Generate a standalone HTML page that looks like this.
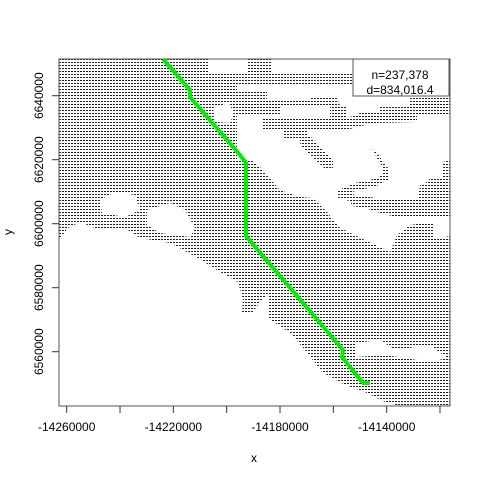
<!DOCTYPE html>
<html><head><meta charset="utf-8"><style>
html,body{margin:0;padding:0;background:#fff;}
svg{display:block;font-family:"Liberation Sans",Arial,sans-serif;}
</style></head><body>
<svg id="chart" width="480" height="480" viewBox="0 0 480 480">
<defs>
<pattern id="dots" x="59" y="59" width="3" height="3" patternUnits="userSpaceOnUse">
<rect x="0" y="0" width="2" height="1" fill="#222"/>
</pattern>
<clipPath id="plotclip"><rect x="59" y="59" width="391" height="347"/></clipPath>
</defs>
<g id="raster" clip-path="url(#plotclip)">
<rect x="59" y="59" width="391" height="347" fill="url(#dots)"/>
<g fill="#fff">
<polygon points="59,240 68,228 80,222 100,230 125,228 140,238 170,243 198,258 220,272 238,282 243,300 242,312 252,313 262,300 268,295 268,318 290,333 305,350 322,372 345,385 365,392 385,402 400,406 59,406"/>
<polygon points="355,343 380,340 395,350 430,345 447,358 430,362 385,355 356,357"/>
<polygon points="100,200 115,192 135,195 140,210 125,217 102,213"/>
<polygon points="147,210 170,203 185,210 195,228 190,237 160,233 147,225"/>
<polygon points="213,108 228,103 234,112 230,123 215,122"/>
<polygon points="208,59 450,59 450,236 440,238 433,238 433,222 410,225 397,235 390,252 380,247 367,241 340,228 327,212 313,198 300,197 280,190 260,167 250,159 237,159 237,86 208,86"/>
</g>
<g fill="url(#dots)">
<polygon points="208,72 248,72 248,59 272,59 272,72 315,72 340,72 353,73 353,86 315,86 230,86 208,86"/>
<polygon points="237,92 267,92 267,99 310,99 310,96 337,96 340,106 347,106 347,119 330,119 330,106 280,106 280,116 237,116"/>
<polygon points="263,119 345,119 360,113 380,113 380,107 410,106 410,96 450,96 450,115 417,116 417,122 373,123 350,129 307,129 307,139 283,139 283,129 263,129"/>
<polygon points="300,136 310,136 333,160 333,169 325,169 300,145"/>
<polygon points="368,148 372,148 378,160 383,168 383,175 370,180 355,183 343,188 337,192 337,198 350,201 352,206 365,208 380,213 400,218 450,218 450,160 443,162 443,178 430,178 427,182 420,185 418,198 400,200 387,200 370,197 355,195 350,193 358,190 375,187 382,183 388,180 388,168 382,160 375,150"/>
</g>
</g>
<g id="series"></g>
<rect x="59" y="59" width="391" height="347" fill="none" stroke="#555" stroke-width="1"/>
<g id="xaxis"></g>
<g id="yaxis"></g>
<text x="254" y="462" font-size="12" text-anchor="middle">x</text>
<text transform="translate(12,232) rotate(-90)" font-size="12" text-anchor="middle">y</text>
<g>
<rect x="353" y="59" width="96" height="37" fill="#fff" stroke="#555" stroke-width="1"/>
<text x="400" y="79" font-size="12" text-anchor="middle">n=237,378</text>
<text x="400" y="94" font-size="12" text-anchor="middle">d=834,016.4</text>
</g>
</svg>
<script>
const pathX = [-14223900, -14213760, -14213760, -14195010, -14192760, -14192760, -14156390, -14156760, -14148890, -14146260];
const pathY = [6651470, 6641780, 6639590, 6621470, 6618970, 6596160, 6560530, 6558340, 6550220, 6550220];
const xTicks = [-14260000, -14240000, -14220000, -14200000, -14180000, -14160000, -14140000, -14120000];
const xTickLabels = ["-14260000", "", "-14220000", "", "-14180000", "", "-14140000", ""];
const yTicks = [6560000, 6580000, 6600000, 6620000, 6640000];
const yTickLabels = ["6560000", "6580000", "6600000", "6620000", "6640000"];

const NS = "http://www.w3.org/2000/svg";
function sx(v){ return 66.7 + (v + 14260000) * 53.33 / 20000; }
function sy(v){ return 95.7 - (v - 6640000) * 64 / 20000; }

const series = document.getElementById('series');
const pl = document.createElementNS(NS, 'polyline');
pl.setAttribute('points', pathX.map((x,i)=>sx(x).toFixed(1)+','+sy(pathY[i]).toFixed(1)).join(' '));
pl.setAttribute('fill', 'none');
pl.setAttribute('stroke', '#00ee00');
pl.setAttribute('stroke-width', '4');
pl.setAttribute('stroke-linejoin', 'round');
pl.setAttribute('clip-path', 'url(#plotclip)');


series.appendChild(pl);

const xa = document.getElementById('xaxis');
xTicks.forEach((t,i)=>{
  const x = sx(t);
  const ln = document.createElementNS(NS, 'line');
  ln.setAttribute('x1', x); ln.setAttribute('x2', x);
  ln.setAttribute('y1', 406); ln.setAttribute('y2', 413);
  ln.setAttribute('stroke', '#333');
  
  
  xa.appendChild(ln);
  if (xTickLabels[i]) {
    const tx = document.createElementNS(NS, 'text');
    tx.setAttribute('x', x); tx.setAttribute('y', 431);
    tx.setAttribute('font-size', '12');
    tx.setAttribute('text-anchor', 'middle');
    tx.textContent = xTickLabels[i];
    
    
    xa.appendChild(tx);
  }
});
const ya = document.getElementById('yaxis');
yTicks.forEach((t,i)=>{
  const y = sy(t);
  const ln = document.createElementNS(NS, 'line');
  ln.setAttribute('x1', 52); ln.setAttribute('x2', 59);
  ln.setAttribute('y1', y); ln.setAttribute('y2', y);
  ln.setAttribute('stroke', '#333');
  
  
  ya.appendChild(ln);
  const tx = document.createElementNS(NS, 'text');
  tx.setAttribute('transform', 'translate(43,' + y + ') rotate(-90)');
  tx.setAttribute('font-size', '12');
  tx.setAttribute('text-anchor', 'middle');
  tx.textContent = yTickLabels[i];
  
  
  ya.appendChild(tx);
});
</script>
</body></html>
